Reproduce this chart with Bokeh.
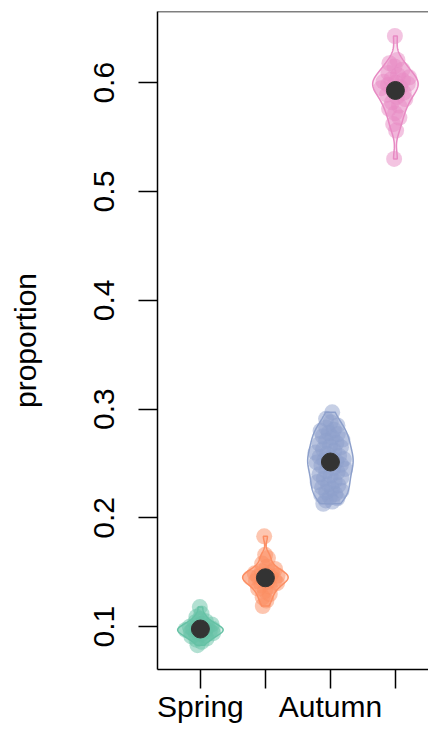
import numpy as np
from bokeh.plotting import figure
from bokeh.models import FixedTicker, Span
from bokeh.embed import file_html
from bokeh.resources import INLINE

categories = ["Spring", "Summer", "Autumn", "Winter"]
shown_labels = ["Spring", "", "Autumn", ""]
colors = ["#66C2A5", "#FC8D62", "#8DA0CB", "#E78AC3"]
y_ticks = [0.1, 0.2, 0.3, 0.4, 0.5, 0.6]

spring = [0.083, 0.086, 0.088, 0.089, 0.090, 0.091, 0.092, 0.093, 0.094, 0.094,
          0.095, 0.096, 0.096, 0.097, 0.097, 0.098, 0.098, 0.099, 0.100, 0.100,
          0.101, 0.102, 0.103, 0.104, 0.105, 0.107, 0.109, 0.112, 0.118]
summer = [0.119, 0.124, 0.127, 0.130, 0.133, 0.135, 0.137, 0.138, 0.140, 0.141,
          0.142, 0.143, 0.144, 0.145, 0.146, 0.146, 0.147, 0.148, 0.149, 0.150,
          0.151, 0.153, 0.155, 0.158, 0.163, 0.166, 0.183]
autumn = [0.213, 0.215, 0.216, 0.218, 0.219, 0.221, 0.222, 0.224, 0.225, 0.227,
          0.228, 0.230, 0.231, 0.233, 0.234, 0.236, 0.237, 0.239, 0.240, 0.242,
          0.243, 0.245, 0.246, 0.248, 0.249, 0.250, 0.251, 0.252, 0.253, 0.254,
          0.255, 0.256, 0.257, 0.259, 0.260, 0.262, 0.263, 0.265, 0.266, 0.268,
          0.269, 0.271, 0.272, 0.274, 0.275, 0.277, 0.278, 0.280, 0.281, 0.283,
          0.285, 0.288, 0.291, 0.297]
winter = [0.530, 0.556, 0.562, 0.568, 0.572, 0.576, 0.579, 0.582, 0.585, 0.587,
          0.589, 0.591, 0.593, 0.595, 0.596, 0.598, 0.599, 0.600, 0.601, 0.602,
          0.603, 0.605, 0.607, 0.609, 0.612, 0.615, 0.618, 0.621, 0.643]
groups = [spring, summer, autumn, winter]

FONT = "Liberation Sans"
Y0, Y1 = 0.0606, 0.6655

p = figure(width=428, height=725, x_range=(0.34, 4.509), y_range=(Y0, Y1),
           output_backend="svg", toolbar_location=None,
           min_border_left=157, min_border_right=0, min_border_top=11, min_border_bottom=55)
p.outline_line_color = None
p.xgrid.visible = False
p.ygrid.visible = False
p.background_fill_color = "white"
p.border_fill_color = "white"


def kde(data, grid):
    d = np.asarray(data)
    n = len(d)
    sd = d.std(ddof=1)
    iqr = np.subtract(*np.percentile(d, [75, 25]))
    bw = 0.9 * min(sd, iqr / 1.34) * n ** -0.2
    z = (grid[:, None] - d[None, :]) / bw
    return np.exp(-0.5 * z ** 2).sum(axis=1)


max_half = 0.35
xs_v, ys_v = [], []
pts_x, pts_y, pts_c = [], [], []
means = []
for i, (vals, col) in enumerate(zip(groups, colors)):
    pos = i + 1
    vals = np.sort(np.asarray(vals))
    grid = np.linspace(vals.min(), vals.max(), 200)
    dens = kde(vals, grid)
    w = dens / dens.max() * max_half
    xs_v.append(np.concatenate([pos - w, (pos + w)[::-1]]))
    ys_v.append(np.concatenate([grid, grid[::-1]]))
    wp = np.interp(vals, grid, w)
    u = 2 * ((np.arange(len(vals)) * 0.618034) % 1) - 1
    pts_x.extend(list(pos + 0.7 * u * wp))
    pts_y.extend(list(vals))
    pts_c.extend([col] * len(vals))
    means.append(vals.mean())

p.patches(xs_v, ys_v, fill_color=colors, fill_alpha=0.25, line_color=colors, line_width=1.5)
p.scatter(pts_x, pts_y, size=16, fill_color=pts_c, fill_alpha=0.5, line_color=None)
p.scatter([1, 2, 3, 4], means, size=18, fill_color="#333333", line_color="#333333")

p.add_layout(Span(location=Y1, dimension="width", line_color="black", line_width=1.5))

for ax in (p.xaxis[0], p.yaxis[0]):
    ax.axis_line_width = 1.5
    ax.axis_line_color = "black"
    ax.major_tick_line_width = 1.5
    ax.major_tick_line_color = "black"
    ax.major_tick_out = 19
    ax.major_tick_in = 0
    ax.minor_tick_line_color = None
    ax.major_label_text_font = FONT
    ax.major_label_text_font_size = "30px"
    ax.major_label_text_color = "black"

p.xaxis.ticker = FixedTicker(ticks=[1, 2, 3, 4])
p.xaxis.major_label_overrides = {i + 1: lab for i, lab in enumerate(shown_labels)}
p.xaxis.major_label_standoff = 1

p.yaxis.ticker = FixedTicker(ticks=y_ticks)
p.yaxis.major_label_orientation = "vertical"
p.yaxis.major_label_standoff = 24
p.yaxis.axis_label = "proportion"
p.yaxis.axis_label_text_font = FONT
p.yaxis.axis_label_text_font_size = "30px"
p.yaxis.axis_label_text_font_style = "normal"
p.yaxis.axis_label_text_color = "black"
p.yaxis.axis_label_standoff = 50

open("out.html", "w").write(file_html(p, INLINE))
